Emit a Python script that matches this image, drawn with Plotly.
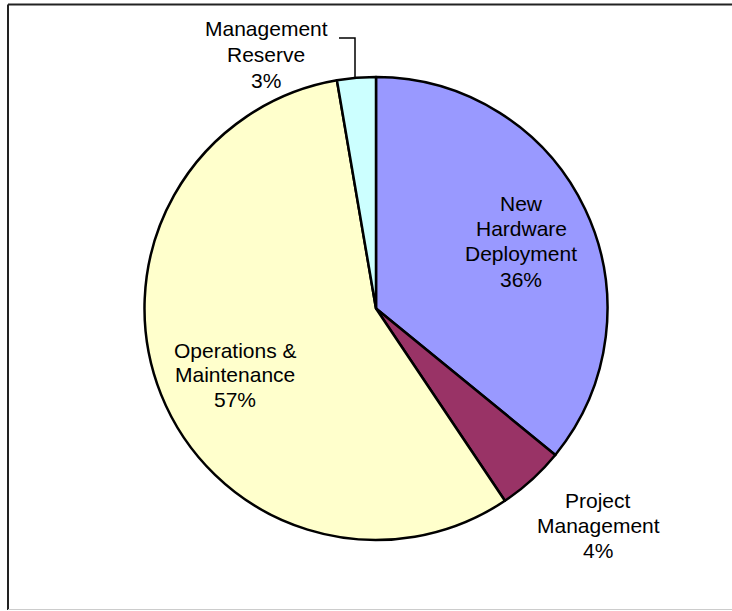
import plotly.graph_objects as go

categories = ["New Hardware Deployment", "Project Management", "Operations & Maintenance", "Management Reserve"]
label_lines = [["New", "Hardware", "Deployment"], ["Project", "Management"], ["Operations &", "Maintenance"], ["Management", "Reserve"]]
values = [35.9, 4.7, 56.7, 2.7]
pct_labels = ["36%", "4%", "57%", "3%"]
colors = ["#9999FF", "#993366", "#FFFFCC", "#CCFFFF"]

W, H = 732, 611
cx, cy, r = 376, 308.5, 231.5

fig = go.Figure(go.Pie(
    labels=categories,
    values=values,
    sort=False,
    direction="clockwise",
    rotation=0,
    marker=dict(colors=colors, line=dict(color="black", width=2.5)),
    textinfo="none",
    hoverinfo="label+percent",
    showlegend=False,
    domain=dict(x=[(cx - r) / W, (cx + r) / W], y=[1 - (cy + r) / H, 1 - (cy - r) / H]),
))


def px(x):
    return x / W


def py(y):
    return 1 - y / H


# label positions in pixels: x centre, y centre of first line, line spacing
label_pos = [(521, 204, 25), (598, 500, 25), (235, 350, 24.5), (266, 29, 25.5)]
for lines, pct, (x, y0, dy) in zip(label_lines, pct_labels, label_pos):
    for i, line in enumerate(lines + [pct]):
        fig.add_annotation(
            x=px(x), y=py(y0 + i * dy), xref="paper", yref="paper",
            text=line, showarrow=False,
            font=dict(family="Liberation Sans, Arial, sans-serif", size=21, color="black"),
            align="center", xanchor="center", yanchor="middle",
        )

# leader line for Management Reserve
fig.add_shape(type="path", xref="paper", yref="paper",
              path=f"M {px(339)} {py(38)} L {px(355)} {py(38)} L {px(355)} {py(78)}",
              line=dict(color="black", width=1.5))

# frame
fig.add_shape(type="line", xref="paper", yref="paper", x0=px(8), x1=1, y0=py(4.5), y1=py(4.5),
              line=dict(color="#222222", width=2))
fig.add_shape(type="line", xref="paper", yref="paper", x0=px(8), x1=px(8), y0=py(4.5), y1=py(610),
              line=dict(color="#222222", width=2))
fig.add_shape(type="line", xref="paper", yref="paper", x0=px(8), x1=1, y0=py(609.5), y1=py(609.5),
              line=dict(color="#cccccc", width=1))

fig.update_layout(
    width=W, height=H,
    margin=dict(l=0, r=0, t=0, b=0),
    paper_bgcolor="white",
    plot_bgcolor="white",
)

fig.write_html("out.html", config={"displayModeBar": False},
               post_script="document.body.style.margin='0';")
